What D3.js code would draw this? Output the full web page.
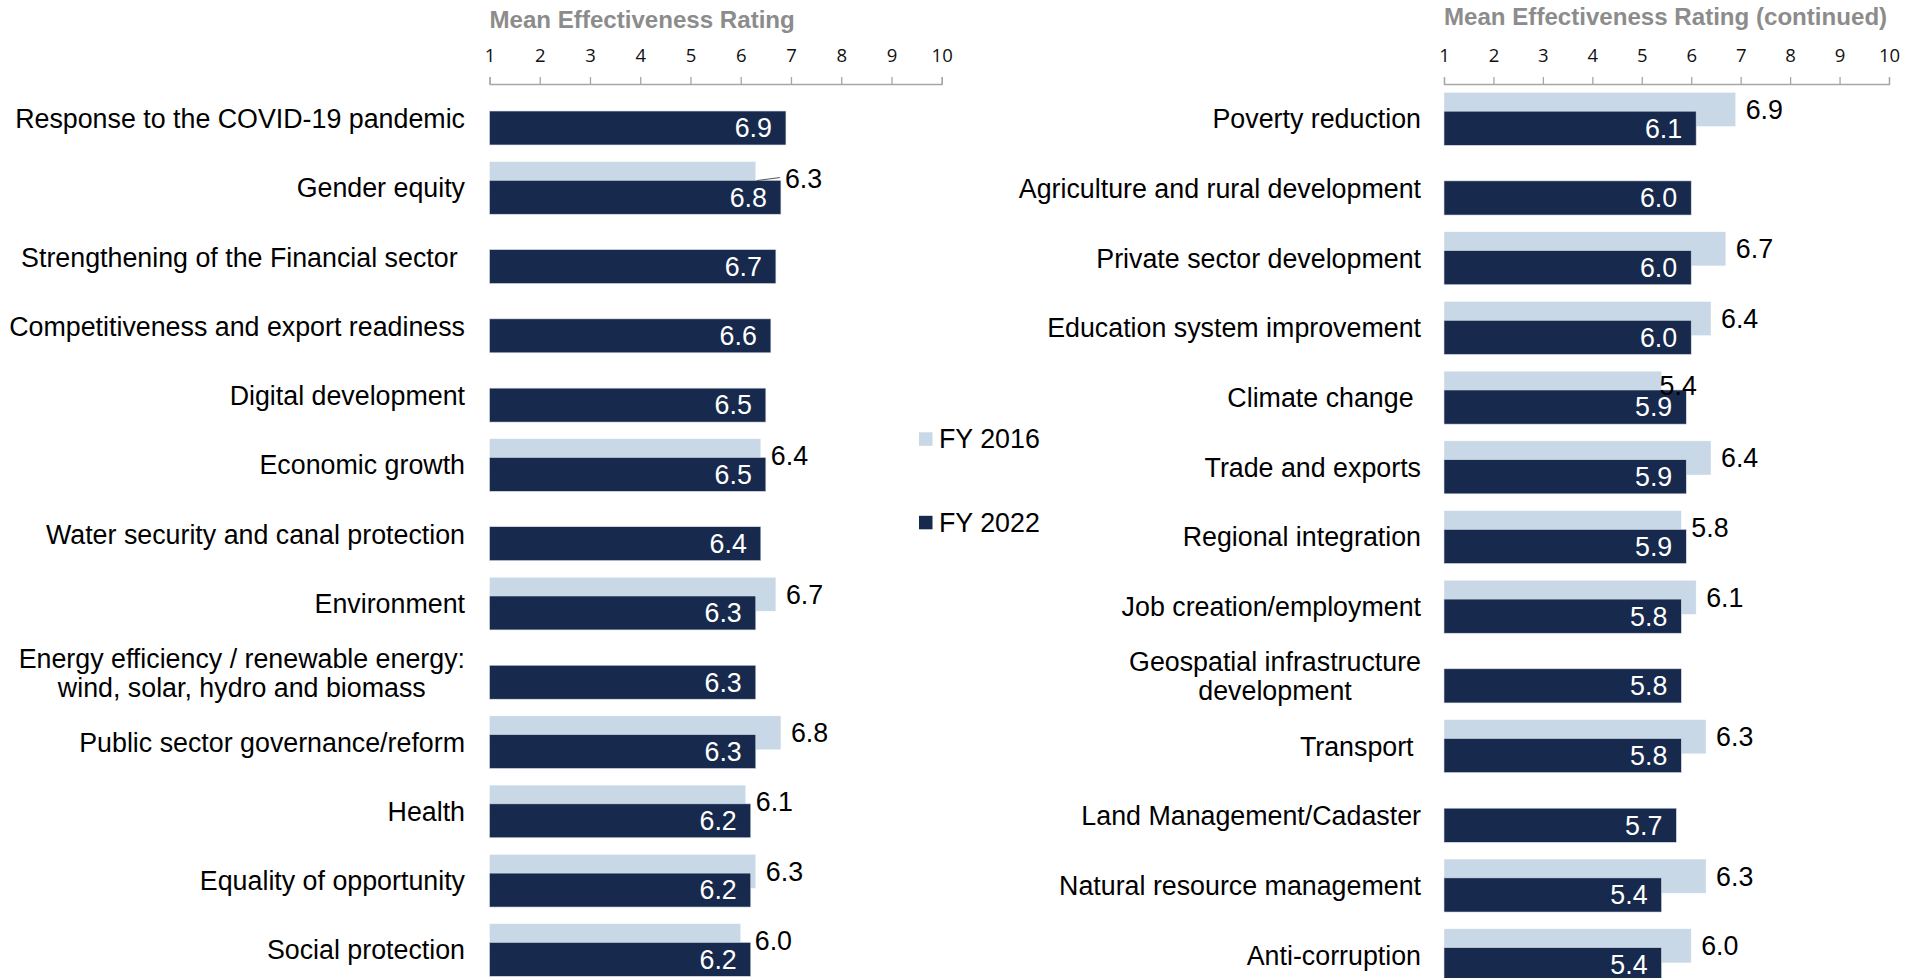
<!DOCTYPE html>
<html>
<head>
<meta charset="utf-8">
<script src="https://cdn.jsdelivr.net/npm/d3@7"></script>
<style>
  html, body { margin: 0; padding: 0; background: #ffffff; }
  svg { display: block; font-family: Arial, "Liberation Sans", sans-serif; }
  svg text { white-space: pre; }
</style>
</head>
<body>
<svg id="chart" width="1917" height="978"></svg>
<script>
// ---- data ----
const leftCategories = [
  "Response to the COVID-19 pandemic",
  "Gender equity",
  "Strengthening of the Financial sector ",
  "Competitiveness and export readiness",
  "Digital development",
  "Economic growth",
  "Water security and canal protection",
  "Environment",
  "Energy efficiency / renewable energy:\nwind, solar, hydro and biomass",
  "Public sector governance/reform",
  "Health",
  "Equality of opportunity",
  "Social protection"
];
const leftFY2016 = [null, 6.3, null, null, null, 6.4, null, 6.7, null, 6.8, 6.1, 6.3, 6.0];
const leftFY2022 = [6.9, 6.8, 6.7, 6.6, 6.5, 6.5, 6.4, 6.3, 6.3, 6.3, 6.2, 6.2, 6.2];

const rightCategories = [
  "Poverty reduction",
  "Agriculture and rural development",
  "Private sector development",
  "Education system improvement",
  "Climate change ",
  "Trade and exports",
  "Regional integration",
  "Job creation/employment",
  "Geospatial infrastructure\ndevelopment",
  "Transport ",
  "Land Management/Cadaster",
  "Natural resource management",
  "Anti-corruption"
];
const rightFY2016 = [6.9, null, 6.7, 6.4, 5.4, 6.4, 5.8, 6.1, null, 6.3, null, 6.3, 6.0];
const rightFY2022 = [6.1, 6.0, 6.0, 6.0, 5.9, 5.9, 5.9, 5.8, 5.8, 5.8, 5.7, 5.4, 5.4];

const axisTicks = [1, 2, 3, 4, 5, 6, 7, 8, 9, 10];
const seriesNames = ["FY 2016", "FY 2022"];
const panelTitles = ["Mean Effectiveness Rating", "Mean Effectiveness Rating (continued)"];

// ---- styling ----
const colorLight = "#c8d8e7";
const colorDark = "#17294d";
const axisGrey = "#a6a6a6";
const titleGrey = "#8c8c8c";
const labelSize = 26.8;

const svg = d3.select("#chart");
const fmt = d3.format(".1f");

// label of the earlier series is tucked onto its own bar end where the later bar covers the usual spot
const tuckedLabels = new Set(["Climate change "]);

const panels = [
  { categories: leftCategories, fy2016: leftFY2016, fy2022: leftFY2022, title: panelTitles[0],
    x0: 489.5, x1: 941.7, labelRight: 465, top: 84, step: 69.28, titleY: 28 },
  { categories: rightCategories, fy2016: rightFY2016, fy2022: rightFY2022, title: panelTitles[1],
    x0: 1444, x1: 1889, labelRight: 1421, top: 84, step: 69.7, titleY: 25 }
];

function drawPanel(p) {
  const g = svg.append("g");
  const x = d3.scaleLinear().domain([1, 10]).range([p.x0, p.x1]);
  const y = d3.scaleBand()
    .domain(p.categories)
    .range([p.top, p.top + p.categories.length * p.step])
    .paddingInner(0).paddingOuter(0);
  const bw = y.bandwidth();
  const barH = bw * 0.49;
  const lightOff = bw * 0.12;
  const darkOff = bw * 0.39;

  // title
  g.append("text")
    .attr("x", p.x0)
    .attr("y", p.titleY)
    .attr("font-size", 24.1)
    .attr("font-weight", "bold")
    .attr("fill", titleGrey)
    .text(p.title);

  // value axis along the top
  const axis = d3.axisTop(x)
    .tickValues(axisTicks)
    .tickSize(7)
    .tickSizeOuter(7)
    .tickPadding(15)
    .tickFormat(d3.format("d"));
  const ag = g.append("g").attr("transform", `translate(0,${p.top})`).call(axis);
  ag.attr("font-family", "'Open Sans', sans-serif").attr("font-size", 18.5);
  ag.select(".domain").attr("stroke", axisGrey).attr("stroke-width", 1.3);
  ag.selectAll(".tick line").attr("stroke", axisGrey).attr("stroke-width", 1.3);
  ag.selectAll(".tick text").attr("fill", "#111");

  const rows = p.categories.map((c, i) => ({ cat: c, v16: p.fy2016[i], v22: p.fy2022[i] }));

  // FY 2016 bars (behind)
  g.append("g").selectAll("rect")
    .data(rows.filter(d => d.v16 != null))
    .join("rect")
    .attr("x", x(1))
    .attr("y", d => y(d.cat) + lightOff)
    .attr("width", d => x(d.v16) - x(1))
    .attr("height", barH)
    .attr("fill", colorLight)
    .attr("stroke", "#ffffff").attr("stroke-width", 0.6).attr("stroke-opacity", 0.7);

  // FY 2022 bars (front)
  g.append("g").selectAll("rect")
    .data(rows)
    .join("rect")
    .attr("x", x(1))
    .attr("y", d => y(d.cat) + darkOff)
    .attr("width", d => x(d.v22) - x(1))
    .attr("height", barH)
    .attr("fill", colorDark)
    .attr("stroke", "#d7dfe9").attr("stroke-width", 0.6);

  // FY 2022 value labels, inside the bar end
  g.append("g").selectAll("text")
    .data(rows)
    .join("text")
    .attr("x", d => x(d.v22) - 14)
    .attr("y", d => y(d.cat) + darkOff + barH / 2)
    .attr("dy", "0.35em")
    .attr("text-anchor", "end")
    .attr("font-size", labelSize)
    .attr("fill", "#ffffff")
    .text(d => fmt(d.v22));

  // FY 2016 value labels, outside the bar end
  const lg = g.append("g");
  rows.filter(d => d.v16 != null).forEach(d => {
    const lightEnd = x(d.v16);
    const darkEnd = x(d.v22);
    const cy = y(d.cat) + lightOff + barH / 2;
    let lx, ly = cy;
    if (tuckedLabels.has(d.cat)) {
      lx = lightEnd - 2;
      ly = cy - 3;
    } else {
      lx = Math.max(lightEnd + 10, darkEnd + 4);
      if (lx > lightEnd + 20) {
        lg.append("line")
          .attr("x1", lightEnd + 1).attr("y1", cy + 2)
          .attr("x2", lx - 5).attr("y2", cy - 1)
          .attr("stroke", "#555").attr("stroke-width", 1);
      }
    }
    lg.append("text")
      .attr("x", lx)
      .attr("y", ly)
      .attr("dy", "0.35em")
      .attr("font-size", labelSize)
      .attr("fill", "#000")
      .text(fmt(d.v16));
  });

  // category labels
  const cg = g.append("g");
  p.categories.forEach(c => {
    const lines = c.split("\n");
    const cy = y(c) + bw / 2;
    if (lines.length === 1) {
      cg.append("text")
        .attr("x", p.labelRight)
        .attr("y", cy)
        .attr("dy", "0.35em")
        .attr("text-anchor", "end")
        .attr("font-size", labelSize)
        .attr("fill", "#000")
        .text(c);
    } else {
      const lh = 29;
      const t = cg.append("text")
        .attr("font-size", labelSize)
        .attr("fill", "#000")
        .attr("text-anchor", "middle");
      const spans = lines.map((ln, k) =>
        t.append("tspan")
          .attr("y", cy + (k - (lines.length - 1) / 2) * lh)
          .attr("dy", "0.35em")
          .text(ln));
      const maxW = d3.max(spans, s => s.node().getComputedTextLength());
      spans.forEach(s => s.attr("x", p.labelRight - maxW / 2));
    }
  });
}

panels.forEach(drawPanel);

// legend between the panels
const legendColors = [colorLight, colorDark];
const legendY = [439, 522.5];
const lgd = svg.append("g");
seriesNames.forEach((name, i) => {
  lgd.append("rect")
    .attr("x", 919).attr("y", legendY[i] - 6.7)
    .attr("width", 13.5).attr("height", 13.5)
    .attr("fill", legendColors[i]);
  lgd.append("text")
    .attr("x", 939).attr("y", legendY[i])
    .attr("dy", "0.35em")
    .attr("font-size", labelSize)
    .attr("fill", "#000")
    .text(name);
});
</script>
</body>
</html>
